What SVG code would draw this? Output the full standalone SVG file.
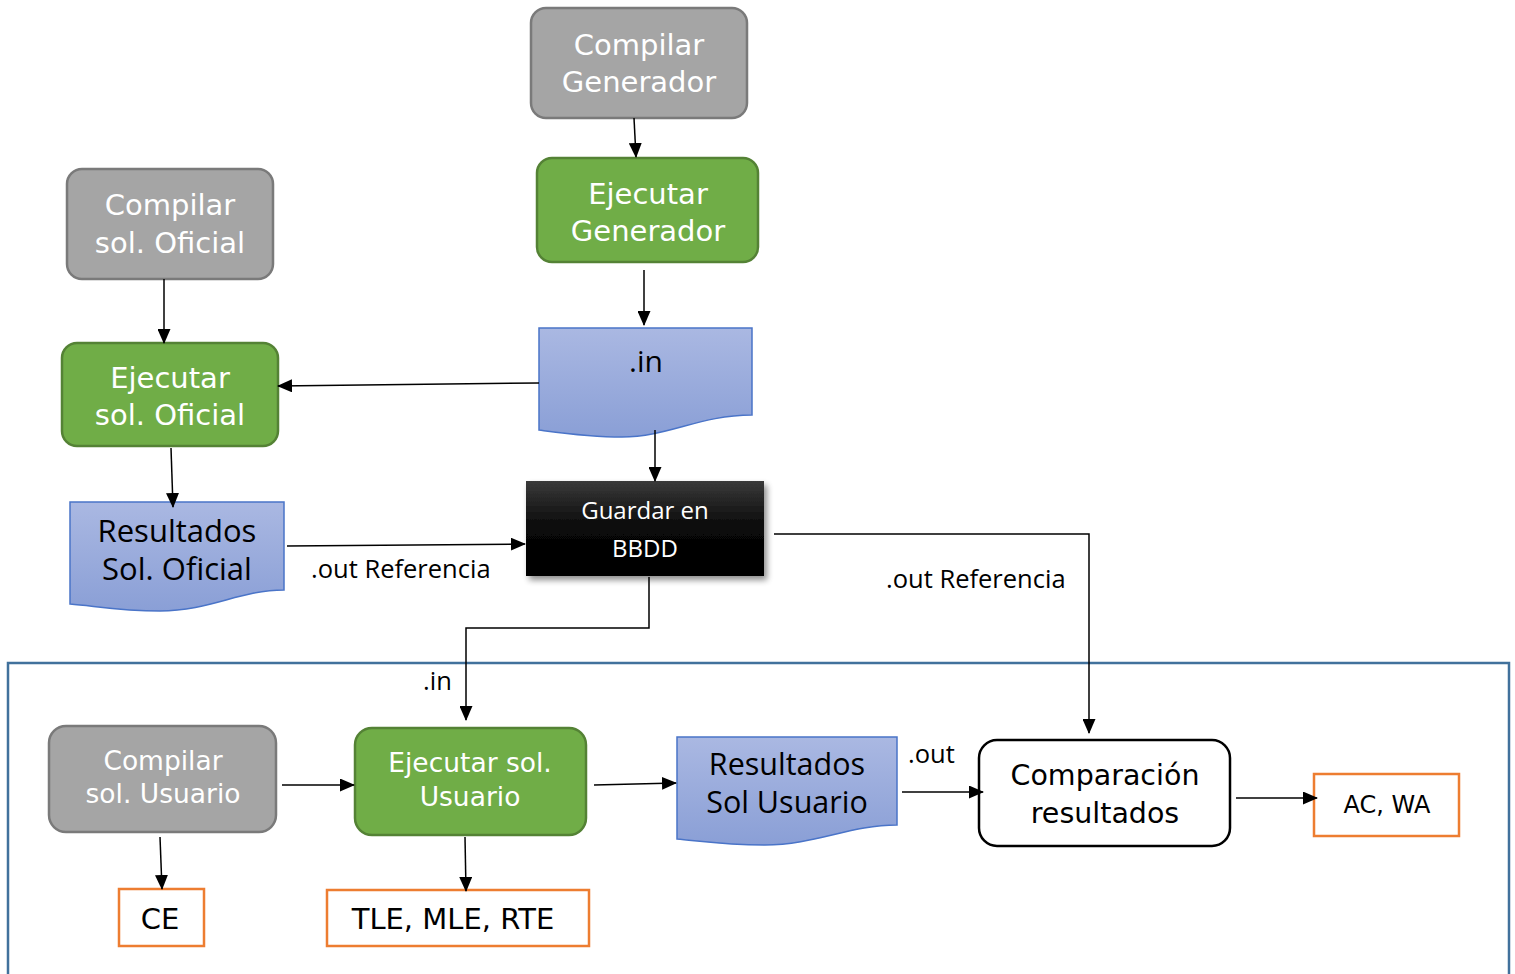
<svg xmlns="http://www.w3.org/2000/svg" width="1515" height="974" viewBox="0 0 1515 974">
  <defs>
    <linearGradient id="docFill" x1="0" y1="0" x2="0" y2="1">
      <stop offset="0" stop-color="#aab8e2"/>
      <stop offset="1" stop-color="#8a9fd6"/>
    </linearGradient>
    <linearGradient id="dbFill" x1="0" y1="0" x2="0" y2="1">
      <stop offset="0" stop-color="#3a3a3a"/>
      <stop offset="0.5" stop-color="#080808"/>
      <stop offset="1" stop-color="#000000"/>
    </linearGradient>
    <filter id="shadow" x="-10%" y="-10%" width="125%" height="130%">
      <feGaussianBlur in="SourceAlpha" stdDeviation="3"/>
      <feOffset dx="3" dy="4" result="b"/>
      <feComponentTransfer><feFuncA type="linear" slope="0.45"/></feComponentTransfer>
      <feMerge><feMergeNode/><feMergeNode in="SourceGraphic"/></feMerge>
    </filter>
    <marker id="arrow" markerUnits="userSpaceOnUse" markerWidth="15" markerHeight="13" refX="14" refY="6.5" orient="auto">
      <path d="M0,0 L15,6.5 L0,13 Z" fill="#000"/>
    </marker>
    <style>
      .gray { fill: #a5a5a5; stroke: #7a7a7a; stroke-width: 2.5; }
      .green { fill: #70ad47; stroke: #548235; stroke-width: 2.5; }
      .doc { fill: url(#docFill); stroke: #4a74c8; stroke-width: 1.5; }
      .out { fill: #fff; stroke: #ed7d31; stroke-width: 2.5; }
      .cmp { fill: #fff; stroke: #000; stroke-width: 2.5; }
      .frame { fill: none; stroke: #41719c; stroke-width: 2.5; }
      .conn line, .conn polyline { fill: none; stroke: #000; stroke-width: 1.5; marker-end: url(#arrow); }
      .v { font-family: "DejaVu Sans", Verdana, sans-serif; text-anchor: middle; }
      .s { font-family: "Open Sans", "Noto Sans", sans-serif; text-anchor: middle; }
      .w { fill: #fff; }
      .k { fill: #000; }
      .lbl { font-family: "Open Sans", "Noto Sans", sans-serif; font-size: 25.5px; fill: #000; }
    </style>
  </defs>

  <rect width="1515" height="974" fill="#fff"/>

  <!-- region for the user solution stage -->
  <path class="frame" d="M8,980 V663 H1509 V980"/>

  <g id="compilar-generador">
    <rect class="gray" x="531" y="8" width="216" height="110" rx="15"/>
    <text class="v w" font-size="29" x="639" y="55">Compilar</text>
    <text class="v w" font-size="29" x="639" y="92">Generador</text>
  </g>

  <g id="ejecutar-generador">
    <rect class="green" x="537" y="158" width="221" height="104" rx="15"/>
    <text class="v w" font-size="29" x="648" y="204">Ejecutar</text>
    <text class="v w" font-size="29" x="648" y="241">Generador</text>
  </g>

  <g id="in-file">
    <path class="doc" d="M539,328 H752 V415 C700,415 668,437 622,437 C590,437 562,433 539,430 Z"/>
    <text class="s k" font-size="30" x="646" y="372">.in</text>
  </g>

  <g id="compilar-oficial">
    <rect class="gray" x="67" y="169" width="206" height="110" rx="15"/>
    <text class="v w" font-size="29" x="170" y="215">Compilar</text>
    <text class="v w" font-size="29" x="170" y="253">sol. Oficial</text>
  </g>

  <g id="ejecutar-oficial">
    <rect class="green" x="62" y="343" width="216" height="103" rx="15"/>
    <text class="v w" font-size="29" x="170" y="388">Ejecutar</text>
    <text class="v w" font-size="29" x="170" y="425">sol. Oficial</text>
  </g>

  <g id="resultados-oficial">
    <path class="doc" d="M70,502 H284 V590 C240,590 210,611 160,611 C120,611 95,606 70,604 Z"/>
    <text class="s k" font-size="31" x="177" y="542">Resultados</text>
    <text class="s k" font-size="31" x="177" y="580">Sol. Oficial</text>
  </g>

  <g id="guardar-bbdd">
    <rect x="526" y="481" width="238" height="95" fill="url(#dbFill)" filter="url(#shadow)"/>
    <text class="s w" font-size="24" x="645" y="519">Guardar en</text>
    <text class="s w" font-size="24" x="645" y="557">BBDD</text>
  </g>

  <g id="compilar-usuario">
    <rect class="gray" x="49" y="726" width="227" height="106" rx="17"/>
    <text class="v w" font-size="26.5" x="163" y="770">Compilar</text>
    <text class="v w" font-size="26.5" x="163" y="803">sol. Usuario</text>
  </g>

  <g id="ejecutar-usuario">
    <rect class="green" x="355" y="728" width="231" height="107" rx="17"/>
    <text class="v w" font-size="26.5" x="470" y="772">Ejecutar sol.</text>
    <text class="v w" font-size="26.5" x="470" y="806">Usuario</text>
  </g>

  <g id="resultados-usuario">
    <path class="doc" d="M677,737 H897 V825 C850,825 815,845 765,845 C725,845 700,841 677,839 Z"/>
    <text class="s k" font-size="30.5" x="787" y="775">Resultados</text>
    <text class="s k" font-size="30.5" x="787" y="813">Sol Usuario</text>
  </g>

  <g id="comparacion">
    <rect class="cmp" x="979" y="740" width="251" height="106" rx="18"/>
    <text class="v k" font-size="28.5" x="1105" y="785">Comparación</text>
    <text class="v k" font-size="28.5" x="1105" y="823">resultados</text>
  </g>

  <g id="ac-wa">
    <rect class="out" x="1314" y="774" width="145" height="62"/>
    <text class="v k" font-size="24" x="1387" y="813">AC, WA</text>
  </g>

  <g id="ce">
    <rect class="out" x="119" y="889" width="85" height="57"/>
    <text class="v k" font-size="29" x="160" y="929">CE</text>
  </g>

  <g id="tle-mle-rte">
    <rect class="out" x="327" y="890" width="262" height="56"/>
    <text class="v k" font-size="29" x="453" y="929">TLE, MLE, RTE</text>
  </g>

  <g id="connectors" class="conn">
    <line x1="634" y1="118" x2="636" y2="157"/>
    <line x1="644" y1="270" x2="644" y2="325"/>
    <line x1="539" y1="383" x2="278" y2="386"/>
    <line x1="655" y1="430" x2="655" y2="481"/>
    <line x1="164" y1="279" x2="164" y2="343"/>
    <line x1="171" y1="448" x2="173" y2="507"/>
    <line x1="287" y1="546" x2="525" y2="544"/>
    <polyline points="774,534 1089,534 1089,733"/>
    <polyline points="649,577 649,628 466,628 466,720"/>
    <line x1="282" y1="785" x2="354" y2="785"/>
    <line x1="594" y1="785" x2="676" y2="783"/>
    <line x1="902" y1="792" x2="983" y2="792"/>
    <line x1="1236" y1="798" x2="1317" y2="798"/>
    <line x1="160" y1="837" x2="162" y2="889"/>
    <line x1="465" y1="837" x2="466" y2="891"/>
  </g>

  <g id="connector-labels">
    <text class="lbl" x="311" y="578">.out Referencia</text>
    <text class="lbl" x="886" y="588">.out Referencia</text>
    <text class="lbl" x="423" y="690">.in</text>
    <text class="lbl" x="908" y="763">.out</text>
  </g>
</svg>
